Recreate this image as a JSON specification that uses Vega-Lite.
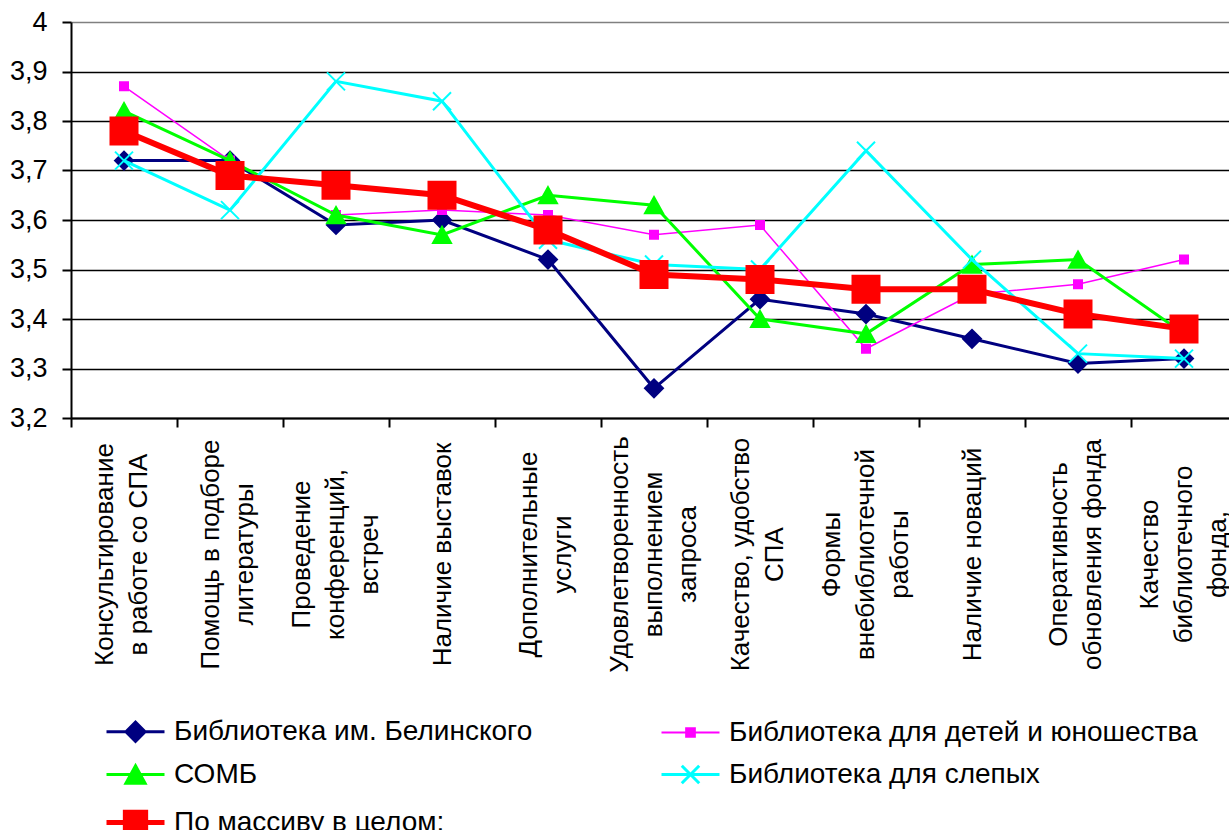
{
  "$schema": "https://vega.github.io/schema/vega-lite/v6.json",
  "width": 1158,
  "height": 396,
  "autosize": {"type": "none"},
  "padding": {"left": 71, "top": 22, "right": 0, "bottom": 412},
  "background": "white",
  "config": {"font": "Liberation Sans", "view": {"stroke": null}},
  "data": {"values": [
    {"cat": "Консультирование\nв работе со СПА", "series": "Библиотека им. Белинского", "value": 3.72},
    {"cat": "Помощь в подборе\nлитературы", "series": "Библиотека им. Белинского", "value": 3.72},
    {"cat": "Проведение\nконференций,\nвстреч", "series": "Библиотека им. Белинского", "value": 3.59},
    {"cat": "Наличие  выставок", "series": "Библиотека им. Белинского", "value": 3.60},
    {"cat": "Дополнительные\nуслуги", "series": "Библиотека им. Белинского", "value": 3.52},
    {"cat": "Удовлетворенность\nвыполнением\nзапроса", "series": "Библиотека им. Белинского", "value": 3.26},
    {"cat": "Качество, удобство\nСПА", "series": "Библиотека им. Белинского", "value": 3.44},
    {"cat": "Формы\nвнебиблиотечной\nработы", "series": "Библиотека им. Белинского", "value": 3.41},
    {"cat": "Наличие  новаций", "series": "Библиотека им. Белинского", "value": 3.36},
    {"cat": "Оперативность\nобновления фонда", "series": "Библиотека им. Белинского", "value": 3.31},
    {"cat": "Качество\nбиблиотечного\nфонда,", "series": "Библиотека им. Белинского", "value": 3.32},

    {"cat": "Консультирование\nв работе со СПА", "series": "Библиотека для детей и юношества", "value": 3.87},
    {"cat": "Помощь в подборе\nлитературы", "series": "Библиотека для детей и юношества", "value": 3.72},
    {"cat": "Проведение\nконференций,\nвстреч", "series": "Библиотека для детей и юношества", "value": 3.61},
    {"cat": "Наличие  выставок", "series": "Библиотека для детей и юношества", "value": 3.62},
    {"cat": "Дополнительные\nуслуги", "series": "Библиотека для детей и юношества", "value": 3.61},
    {"cat": "Удовлетворенность\nвыполнением\nзапроса", "series": "Библиотека для детей и юношества", "value": 3.57},
    {"cat": "Качество, удобство\nСПА", "series": "Библиотека для детей и юношества", "value": 3.59},
    {"cat": "Формы\nвнебиблиотечной\nработы", "series": "Библиотека для детей и юношества", "value": 3.34},
    {"cat": "Наличие  новаций", "series": "Библиотека для детей и юношества", "value": 3.45},
    {"cat": "Оперативность\nобновления фонда", "series": "Библиотека для детей и юношества", "value": 3.47},
    {"cat": "Качество\nбиблиотечного\nфонда,", "series": "Библиотека для детей и юношества", "value": 3.52},

    {"cat": "Консультирование\nв работе со СПА", "series": "СОМБ", "value": 3.82},
    {"cat": "Помощь в подборе\nлитературы", "series": "СОМБ", "value": 3.72},
    {"cat": "Проведение\nконференций,\nвстреч", "series": "СОМБ", "value": 3.61},
    {"cat": "Наличие  выставок", "series": "СОМБ", "value": 3.57},
    {"cat": "Дополнительные\nуслуги", "series": "СОМБ", "value": 3.65},
    {"cat": "Удовлетворенность\nвыполнением\nзапроса", "series": "СОМБ", "value": 3.63},
    {"cat": "Качество, удобство\nСПА", "series": "СОМБ", "value": 3.40},
    {"cat": "Формы\nвнебиблиотечной\nработы", "series": "СОМБ", "value": 3.37},
    {"cat": "Наличие  новаций", "series": "СОМБ", "value": 3.51},
    {"cat": "Оперативность\nобновления фонда", "series": "СОМБ", "value": 3.52},
    {"cat": "Качество\nбиблиотечного\nфонда,", "series": "СОМБ", "value": 3.37},

    {"cat": "Консультирование\nв работе со СПА", "series": "Библиотека для слепых", "value": 3.72},
    {"cat": "Помощь в подборе\nлитературы", "series": "Библиотека для слепых", "value": 3.62},
    {"cat": "Проведение\nконференций,\nвстреч", "series": "Библиотека для слепых", "value": 3.88},
    {"cat": "Наличие  выставок", "series": "Библиотека для слепых", "value": 3.84},
    {"cat": "Дополнительные\nуслуги", "series": "Библиотека для слепых", "value": 3.56},
    {"cat": "Удовлетворенность\nвыполнением\nзапроса", "series": "Библиотека для слепых", "value": 3.51},
    {"cat": "Качество, удобство\nСПА", "series": "Библиотека для слепых", "value": 3.50},
    {"cat": "Формы\nвнебиблиотечной\nработы", "series": "Библиотека для слепых", "value": 3.74},
    {"cat": "Наличие  новаций", "series": "Библиотека для слепых", "value": 3.52},
    {"cat": "Оперативность\nобновления фонда", "series": "Библиотека для слепых", "value": 3.33},
    {"cat": "Качество\nбиблиотечного\nфонда,", "series": "Библиотека для слепых", "value": 3.32},

    {"cat": "Консультирование\nв работе со СПА", "series": "По массиву в целом:", "value": 3.78},
    {"cat": "Помощь в подборе\nлитературы", "series": "По массиву в целом:", "value": 3.69},
    {"cat": "Проведение\nконференций,\nвстреч", "series": "По массиву в целом:", "value": 3.67},
    {"cat": "Наличие  выставок", "series": "По массиву в целом:", "value": 3.65},
    {"cat": "Дополнительные\nуслуги", "series": "По массиву в целом:", "value": 3.58},
    {"cat": "Удовлетворенность\nвыполнением\nзапроса", "series": "По массиву в целом:", "value": 3.49},
    {"cat": "Качество, удобство\nСПА", "series": "По массиву в целом:", "value": 3.48},
    {"cat": "Формы\nвнебиблиотечной\nработы", "series": "По массиву в целом:", "value": 3.46},
    {"cat": "Наличие  новаций", "series": "По массиву в целом:", "value": 3.46},
    {"cat": "Оперативность\nобновления фонда", "series": "По массиву в целом:", "value": 3.41},
    {"cat": "Качество\nбиблиотечного\nфонда,", "series": "По массиву в целом:", "value": 3.38}
  ]},
  "encoding": {
    "x": {
      "field": "cat", "type": "nominal", "sort": null,
      "scale": {"range": [0, 1166], "paddingInner": 0, "paddingOuter": 0},
      "axis": {
        "title": null,
        "labelExpr": "split(datum.label, '\\n')",
        "labelAngle": -90, "labelAlign": "center", "labelBaseline": "middle",
        "labelFontSize": 26, "labelLineHeight": 34, "labelPadding": 127,
        "labelOffset": {"condition": [
          {"test": "length(split(datum.value, '\\n')) >= 3", "value": -35},
          {"test": "length(split(datum.value, '\\n')) == 2", "value": -20}
        ], "value": 0},
        "labelColor": "black", "labelLimit": 0, "labelOverlap": false,
        "tickBand": "extent", "tickSize": 9, "tickColor": "black", "tickWidth": 2,
        "domainColor": "black", "domainWidth": 2, "grid": false
      }
    },
    "y": {
      "field": "value", "type": "quantitative",
      "scale": {"domain": [3.2, 4], "nice": false, "zero": false},
      "axis": {
        "title": null,
        "values": [3.2, 3.3, 3.4, 3.5, 3.6, 3.7, 3.8, 3.9, 4.0],
        "labelExpr": "datum.value >= 3.99 ? '4' : replace(format(datum.value, '.1f'), '.', ',')",
        "labelFontSize": 27, "labelColor": "black", "labelPadding": 15,
        "tickSize": 9, "tickColor": "black", "tickWidth": 2,
        "domainColor": "black", "domainWidth": 2,
        "grid": true, "gridWidth": 1.5,
        "gridColor": {"condition": {"test": "datum.value >= 3.99", "value": "#808080"}, "value": "black"}
      }
    },
    "color": {
      "field": "series", "type": "nominal",
      "scale": {
        "domain": ["Библиотека им. Белинского", "Библиотека для детей и юношества", "СОМБ", "Библиотека для слепых", "По массиву в целом:"],
        "range": ["#000080", "#FF00FF", "#00FF00", "#00FFFF", "#FF0000"]
      },
      "legend": {
        "title": null, "orient": "none", "legendX": 50.5, "legendY": 695.5,
        "direction": "horizontal",
        "columns": 2, "columnPadding": 123, "rowPadding": 12, "padding": 0,
        "symbolSize": 841, "labelFontSize": 28, "labelColor": "black",
        "labelOffset": 24.5, "labelLimit": 700,
        "encode": {
          "symbols": {
            "update": {
              "shape": {"signal": "datum.value === 'Библиотека им. Белинского' ? 'M-2,0H2M-0.66,0L0,-0.66L0.66,0L0,0.66Z' : datum.value === 'Библиотека для детей и юношества' ? 'M-2,0H2M-0.3,-0.3H0.3V0.3H-0.3Z' : datum.value === 'СОМБ' ? 'M-2,0H2M0,-0.6L0.66,0.6H-0.66Z' : datum.value === 'Библиотека для слепых' ? 'M-2,0H2M-0.6,-0.6L0.6,0.6M-0.6,0.6L0.6,-0.6' : 'M-2,0H2M-0.7,-0.7H0.7V0.7H-0.7Z'"},
              "strokeWidth": {"signal": "datum.value === 'Библиотека для детей и юношества' ? 2 : datum.value === 'По массиву в целом:' ? 5 : 3"},
              "stroke": {"scale": "color", "field": "value"},
              "fill": {"scale": "color", "field": "value"},
              "size": {"value": 841},
              "opacity": {"value": 1},
              "fillOpacity": {"value": 1},
              "strokeOpacity": {"value": 1}
            }
          }
        }
      }
    }
  },
  "layer": [
    {"transform": [{"filter": "datum.series === 'Библиотека им. Белинского'"}],
     "mark": {"type": "line", "strokeWidth": 3}},
    {"transform": [{"filter": "datum.series === 'Библиотека им. Белинского'"}],
     "mark": {"type": "point", "filled": true, "opacity": 1, "shape": "M-1,0L0,-1L1,0L0,1Z", "size": 324, "stroke": "#000080", "strokeWidth": 2}},
    {"transform": [{"filter": "datum.series === 'Библиотека для детей и юношества'"}],
     "mark": {"type": "line", "strokeWidth": 1.5}},
    {"transform": [{"filter": "datum.series === 'Библиотека для детей и юношества'"}],
     "mark": {"type": "point", "filled": true, "opacity": 1, "shape": "M-1,-1H1V1H-1Z", "size": 64, "stroke": "#FF00FF", "strokeWidth": 2}},
    {"transform": [{"filter": "datum.series === 'СОМБ'"}],
     "mark": {"type": "line", "strokeWidth": 3}},
    {"transform": [{"filter": "datum.series === 'СОМБ'"}],
     "mark": {"type": "point", "filled": true, "opacity": 1, "shape": "M0,-0.9L1,0.9H-1Z", "size": 324, "stroke": "#00FF00", "strokeWidth": 2}},
    {"transform": [{"filter": "datum.series === 'Библиотека для слепых'"}],
     "mark": {"type": "line", "strokeWidth": 3}},
    {"transform": [{"filter": "datum.series === 'Библиотека для слепых'"}],
     "mark": {"type": "point", "filled": true, "opacity": 1, "shape": "M-1,-1L1,1M-1,1L1,-1", "size": 324, "stroke": "#00FFFF", "strokeWidth": 2}},
    {"transform": [{"filter": "datum.series === 'По массиву в целом:'"}],
     "mark": {"type": "line", "strokeWidth": 6}},
    {"transform": [{"filter": "datum.series === 'По массиву в целом:'"}],
     "mark": {"type": "point", "filled": true, "opacity": 1, "shape": "M-1,-1H1V1H-1Z", "size": 729, "stroke": "#FF0000", "strokeWidth": 2}}
  ]
}
